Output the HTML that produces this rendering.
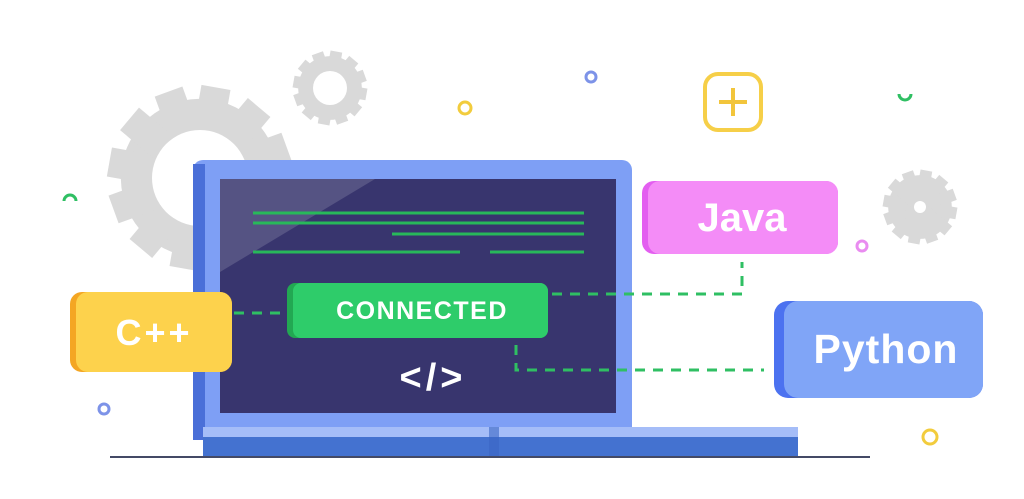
<!DOCTYPE html>
<html><head><style>body{margin:0;background:#fff}svg{display:block}</style></head><body>
<svg width="1024" height="499" viewBox="0 0 1024 499" xmlns="http://www.w3.org/2000/svg" font-family="Liberation Sans, sans-serif" font-weight="bold">
<defs>
<g id="gear"><circle r="0.86" fill="#d9d9d9"/>
<g fill="#d9d9d9"><rect x="-0.16" y="-1" width="0.32" height="2"/><rect x="-0.16" y="-1" width="0.32" height="2" transform="rotate(30)"/><rect x="-0.16" y="-1" width="0.32" height="2" transform="rotate(60)"/><rect x="-0.16" y="-1" width="0.32" height="2" transform="rotate(90)"/><rect x="-0.16" y="-1" width="0.32" height="2" transform="rotate(120)"/><rect x="-0.16" y="-1" width="0.32" height="2" transform="rotate(150)"/></g></g>
</defs>
<use href="#gear" transform="translate(200,178) rotate(10) scale(92)"/>
<circle cx="200" cy="178" r="48" fill="#fff"/>
<use href="#gear" transform="translate(330,88) rotate(10) scale(37)"/>
<circle cx="330" cy="88" r="17" fill="#fff"/>
<use href="#gear" transform="translate(920,207) rotate(10) scale(37)"/>
<circle cx="920" cy="207" r="6" fill="#fff"/>
<circle cx="591" cy="77" r="5" fill="none" stroke="#7d93e8" stroke-width="3"/>
<circle cx="465" cy="108" r="6" fill="none" stroke="#f2cc3d" stroke-width="3"/>
<rect x="705" y="74" width="56" height="56" rx="13" fill="none" stroke="#f6cf48" stroke-width="4"/>
<path d="M733 88v28M719 102h28" stroke="#f2c53b" stroke-width="4"/>
<path d="M899 94a6 6 0 0 0 12 0" fill="none" stroke="#2fbf63" stroke-width="3"/>
<path d="M64 201a6 6 0 0 1 12 0" fill="none" stroke="#2fbf63" stroke-width="3"/>
<circle cx="862" cy="246" r="5" fill="none" stroke="#e98cf0" stroke-width="3"/>
<circle cx="930" cy="437" r="7" fill="none" stroke="#f2cc3d" stroke-width="3"/>
<circle cx="104" cy="409" r="5" fill="none" stroke="#7d93e8" stroke-width="3"/>
<rect x="193" y="160" width="439" height="280" rx="10" fill="#7e9ff5"/>
<rect x="193" y="164" width="12" height="276" fill="#4a6fd8"/>
<rect x="220" y="179" width="396" height="234" fill="#38356e"/>
<path d="M220 179h155L220 272z" fill="#fff" opacity="0.15"/>
<rect x="203" y="427" width="595" height="11" fill="#a5bdf8"/>
<rect x="203" y="437" width="595" height="20" fill="#4472d0"/>
<rect x="489" y="427" width="10" height="30" fill="#3b66c4" opacity="0.6"/>
<rect x="110" y="456" width="760" height="2" fill="#444a66"/>
<g stroke="#28b85a" stroke-width="3"><path d="M253 213h331M253 223h331M392 234h192M253 252h207M490 252h94"/></g>
<g stroke="#2fbf63" stroke-width="3" stroke-dasharray="10 8" fill="none">
<path d="M234 313h53"/><path d="M552 294h190V262"/><path d="M516 345v25h248"/></g>
<rect x="287" y="283" width="261" height="55" rx="8" fill="#22a852"/>
<rect x="293" y="283" width="255" height="55" rx="8" fill="#2ecc6a"/>
<text x="422" y="319" font-size="25" fill="#fff" text-anchor="middle" letter-spacing="1.5">CONNECTED</text>
<text x="433" y="390" font-size="38" fill="#fff" text-anchor="middle" letter-spacing="4">&lt;/&gt;</text>
<rect x="70" y="292" width="162" height="80" rx="12" fill="#f4a623"/>
<rect x="76" y="292" width="156" height="80" rx="12" fill="#fdd24c"/>
<text x="154" y="345" font-size="36" fill="#fff" text-anchor="middle" letter-spacing="3">C++</text>
<rect x="642" y="181" width="196" height="73" rx="12" fill="#e35ef0"/>
<rect x="648" y="181" width="190" height="73" rx="12" fill="#f48cf7"/>
<text x="742" y="231" font-size="40" fill="#fff" text-anchor="middle">Java</text>
<rect x="774" y="301" width="209" height="97" rx="14" fill="#4c72f0"/>
<rect x="784" y="301" width="199" height="97" rx="14" fill="#80a5f7"/>
<text x="886" y="363" font-size="41" fill="#fff" text-anchor="middle" letter-spacing="1">Python</text>
</svg>
</body></html>
